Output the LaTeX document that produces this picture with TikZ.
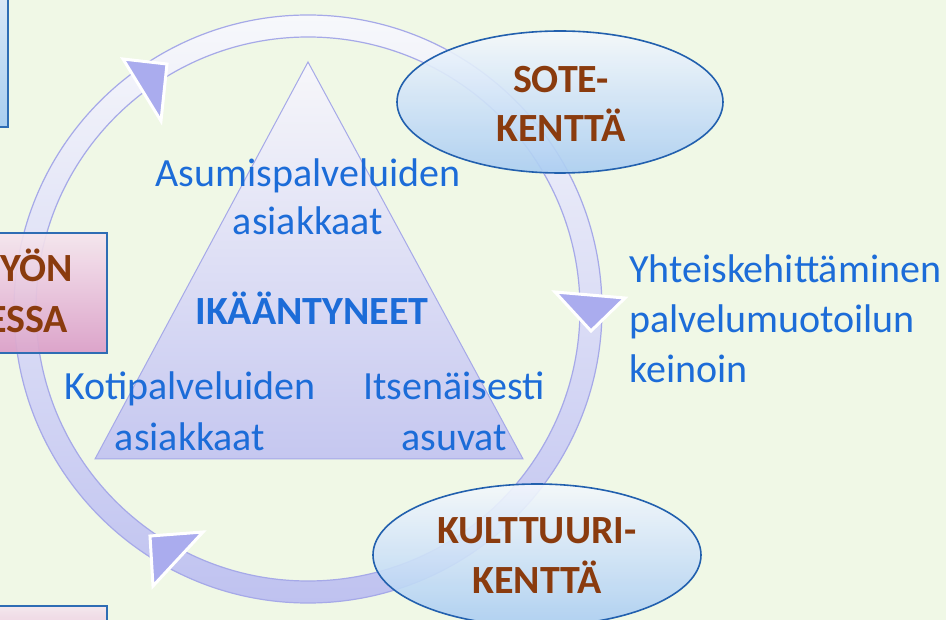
\documentclass[tikz,border=0pt]{standalone}
\usepackage{fontspec}
\setmainfont{Carlito}
\usetikzlibrary{shapes.geometric}
\definecolor{bg}{HTML}{F0F8E6}
\definecolor{ringtop}{HTML}{F7F8FB}
\definecolor{ringbot}{HTML}{BFC2F0}
\definecolor{ringedge}{HTML}{A6A9E8}
\definecolor{arrowfill}{HTML}{AAACEE}
\definecolor{tritop}{HTML}{F7F7FA}
\definecolor{tribot}{HTML}{C5C7F0}
\definecolor{elltop}{HTML}{F4F8FC}
\definecolor{ellbot}{HTML}{AACDF2}
\definecolor{elledge}{HTML}{2260AE}
\definecolor{pinktop}{HTML}{F5E6EE}
\definecolor{pinkbot}{HTML}{DCA4CA}
\definecolor{boxedge}{HTML}{2E6DB4}
\definecolor{bluetop}{HTML}{E4EEF8}
\definecolor{bluebot}{HTML}{A8CEF0}
\definecolor{txtblue}{HTML}{1C6CD8}
\definecolor{txtbrown}{HTML}{8A3B0E}
\tikzset{
  bluetext/.style={font=\fontsize{40}{49}\selectfont, text=txtblue, inner sep=0pt},
  boldblue/.style={font=\fontsize{40}{49}\selectfont\bfseries, text=txtblue, inner sep=0pt},
  fieldtext/.style={font=\fontsize{40}{49}\selectfont\bfseries, text=txtbrown, inner sep=0pt},
  fieldell/.style={ellipse, draw=elledge, line width=1.6pt, top color=elltop, bottom color=ellbot,
    fill opacity=0.9, inner sep=0pt},
  pinkbox/.style={rectangle, draw=boxedge, line width=1.8pt, top color=pinktop, bottom color=pinkbot,
    fill opacity=0.9, inner sep=0pt},
  bluebox/.style={rectangle, draw=boxedge, line width=1.8pt, top color=bluetop, bottom color=bluebot,
    inner sep=0pt},
  cyclearrow/.style={draw=white, line width=3pt, fill=arrowfill, line join=miter},
}
\begin{document}
\begin{tikzpicture}[x=1pt,y=-1pt]
\useasboundingbox (0,0) rectangle (946,620);
\clip (0,0) rectangle (946,620);
\fill[bg] (0,0) rectangle (946,620);

% side boxes (partly outside)
\node[bluebox, minimum width=40pt, minimum height=160pt] (boxtl) at (-12,47) {};
\node[pinkbox, minimum width=140pt, minimum height=120pt] (boxl) at (37,293) {};
\node[pinkbox, minimum width=140pt, minimum height=60pt] (boxbl) at (37,636) {};

% ring
\coordinate (c) at (308,309);
\shade[top color=ringtop, bottom color=ringbot, even odd rule]
  (c) circle[radius=294pt] (c) circle[radius=272pt];
\draw[ringedge, line width=1.2pt] (c) circle[radius=294pt] (c) circle[radius=272pt];

% pink box over ring (semi-transparent)
\node[pinkbox, minimum width=140pt, minimum height=120pt] (boxl2) at (37,293) {};
\node[fieldtext, anchor=base east] (tyon) at (73,282) {TYÖN};
\node[fieldtext, anchor=base east] (essa) at (68,333) {ESSA};

% arrowheads on the ring
\draw[cyclearrow] (123,59) -- (167,64) -- (161,121) -- cycle;
\draw[cyclearrow] (555,292) -- (625,298) -- (591,331) -- cycle;
\draw[cyclearrow] (150,536) -- (203,532) -- (153,586) -- cycle;

% central triangle
\coordinate (apex) at (308,62);
\coordinate (bl) at (95,459);
\coordinate (br) at (523,459);
\shade[top color=tritop, bottom color=tribot] (apex) -- (br) -- (bl) -- cycle;
\draw[ringedge, line width=1pt] (apex) -- (br) -- (bl) -- cycle;

\node[bluetext, anchor=base] (asu1) at (308,187) {Asumispalveluiden};
\node[bluetext, anchor=base] (asu2) at (308,235) {asiakkaat};
\node[boldblue, anchor=base] (ika) at (312,325) {IKÄÄNTYNEET};
\node[bluetext, anchor=base] (koti1) at (190,400) {Kotipalveluiden};
\node[bluetext, anchor=base] (koti2) at (190,450) {asiakkaat};
\node[bluetext, anchor=base] (its1) at (454,400) {Itsenäisesti};
\node[bluetext, anchor=base] (its2) at (454,450) {asuvat};

% field ellipses
\node[fieldell, minimum width=326pt, minimum height=142pt] (sote) at (560,102) {};
\node[fieldtext, anchor=base] (sote1) at (561,93) {SOTE-};
\node[fieldtext, anchor=base] (sote2) at (561,142) {KENTTÄ};
\node[fieldell, minimum width=328pt, minimum height=142pt] (kult) at (537,555) {};
\node[fieldtext, anchor=base] (kult1) at (537,543) {KULTTUURI-};
\node[fieldtext, anchor=base] (kult2) at (537,593) {KENTTÄ};

% right text
\node[bluetext, anchor=base west] (yht1) at (629,283) {Yhteiskehittäminen};
\node[bluetext, anchor=base west] (yht2) at (629,333) {palvelumuotoilun};
\node[bluetext, anchor=base west] (yht3) at (629,383) {keinoin};
\end{tikzpicture}
\end{document}
